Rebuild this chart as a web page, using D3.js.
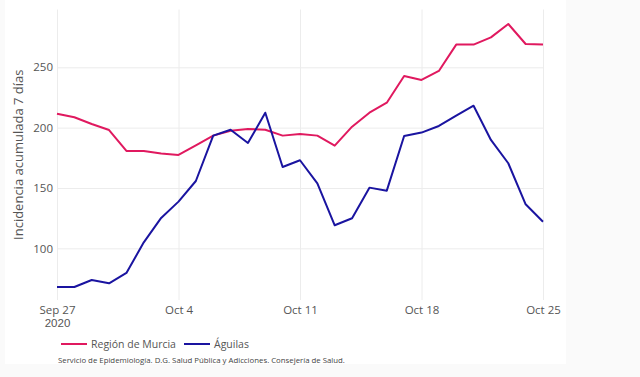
<!DOCTYPE html>
<html>
<head>
<meta charset="utf-8">
<script src="https://cdn.jsdelivr.net/npm/d3@7"></script>
<style>
    body { margin: 0; background: #fafafa; }
    #graphContainer { width: 640px; height: 377px; }
</style>
</head>
<body>
<div id="graphContainer"></div>
<script>
"use strict";

// Daily values, Sep 27 -> Oct 25 2020
const startDate = "2020-09-27";
const murciaValues = [211.6, 208.6, 203, 198, 180.7, 180.7, 178.5, 177.4, 185.4, 193.4,
    197.5, 198.9, 198.3, 193.4, 194.8, 193.4, 185.1, 200.8, 212.4, 220.7,
    242.8, 239.5, 247, 268.8, 268.8, 274.8, 285.9, 269.3, 268.8];
const aguilasValues = [68, 68, 73.8, 71, 79.6, 105, 125.2, 138.7, 155.8, 193.4,
    198.3, 187.3, 212.4, 167.4, 173, 153.9, 119.1, 124.9, 150.3, 147.8,
    193.1, 195.9, 201.4, 209.9, 218.2, 189.8, 170.5, 136.5, 122.1];
const seriesNames = ["Región de Murcia", "Águilas"];
const seriesColors = ["#e0195f", "#1a14a0"];
const yTicks = [100, 150, 200, 250];
const xTickDates = ["2020-09-27", "2020-10-04", "2020-10-11", "2020-10-18", "2020-10-25"];
const yAxisLabel = "Incidencia acumulada 7 días";
const sourceText = "Servicio de Epidemiología. D.G. Salud Pública y Adicciones. Consejería de Salud.";

const graphInfo = {
    width: 640,
    height: 377,
    panelRight: 566,
    panelBottom: 364,
    marginLeft: 57,
    marginRight: 97,
    marginTop: 9.5,
    plotBottom: 300
};

const parseDate = d3.timeParse("%Y-%m-%d");
const day0 = parseDate(startDate);
const dates = murciaValues.map((v, i) => d3.timeDay.offset(day0, i));

const svg = d3.select("#graphContainer").append("svg")
    .attr("width", graphInfo.width)
    .attr("height", graphInfo.height)
    .style("font-family", "'Open Sans', sans-serif");

// White paper area
svg.append("rect")
    .attr("x", 5)
    .attr("y", 0)
    .attr("width", graphInfo.panelRight - 5)
    .attr("height", graphInfo.panelBottom)
    .attr("fill", "white");

const xScale = d3.scaleTime()
    .domain([dates[0], dates[dates.length - 1]])
    .range([graphInfo.marginLeft, graphInfo.width - graphInfo.marginRight]);

const yScale = d3.scaleLinear()
    .domain([57.2, 297.9])
    .range([graphInfo.plotBottom, graphInfo.marginTop]);

// Horizontal grid + y labels
svg.append("g")
    .attr("transform", `translate(${graphInfo.marginLeft},0)`)
    .call(d3.axisLeft(yScale).tickValues(yTicks).tickSize(0).tickPadding(4))
    .call(g => g.select(".domain").remove())
    .call(g => g.selectAll(".tick text")
        .attr("font-family", "'Open Sans', sans-serif")
        .attr("font-size", 11.5)
        .attr("fill", "#555"))
    .call(g => g.selectAll(".tick line").clone()
        .attr("x2", xScale.range()[1] - xScale.range()[0])
        .attr("stroke", "#ececec"));

// Vertical grid + x labels
const xTicks = xTickDates.map(parseDate);
const fmt = d3.timeFormat("%b %-d");
svg.append("g")
    .attr("transform", `translate(0,${graphInfo.plotBottom})`)
    .call(d3.axisBottom(xScale).tickValues(xTicks).tickSize(0).tickFormat(fmt).tickPadding(6))
    .call(g => g.select(".domain").remove())
    .call(g => g.selectAll(".tick text")
        .attr("font-family", "'Open Sans', sans-serif")
        .attr("font-size", 11.5)
        .attr("fill", "#555"))
    .call(g => g.selectAll(".tick line").clone()
        .attr("y2", graphInfo.marginTop - graphInfo.plotBottom)
        .attr("stroke", "#ececec"))
    .call(g => g.select(".tick:first-of-type").append("text")
        .attr("y", 19)
        .attr("dy", "0.71em")
        .attr("text-anchor", "middle")
        .attr("font-size", 11.5)
        .attr("fill", "#555")
        .text("2020"));

// Y axis title
svg.append("text")
    .attr("transform", `translate(23,${(graphInfo.marginTop + graphInfo.plotBottom) / 2}) rotate(-90)`)
    .attr("text-anchor", "middle")
    .attr("font-size", 13)
    .attr("fill", "#555")
    .text(yAxisLabel);

// The two lines
const line = d3.line()
    .x((d, i) => xScale(dates[i]))
    .y(d => yScale(d));

[murciaValues, aguilasValues].forEach((values, k) => {
    svg.append("path")
        .datum(values)
        .attr("fill", "none")
        .attr("stroke", seriesColors[k])
        .attr("stroke-width", 2)
        .attr("stroke-linejoin", "round")
        .attr("d", line);
});

// Legend
const legendX = [61, 184];
const legend = svg.append("g")
    .selectAll("g")
    .data(seriesNames)
    .join("g")
    .attr("transform", (d, i) => `translate(${legendX[i]},344)`);

legend.append("line")
    .attr("x2", 26)
    .attr("stroke", (d, i) => seriesColors[i])
    .attr("stroke-width", 2);

legend.append("text")
    .attr("x", 30)
    .attr("dy", "0.35em")
    .attr("font-size", 10.5)
    .attr("fill", "#555")
    .text(d => d);

// Source line
svg.append("text")
    .attr("x", 58)
    .attr("y", 360)
    .attr("dy", "0.35em")
    .attr("font-size", 7.8)
    .attr("fill", "#444")
    .text(sourceText);
</script>
</body>
</html>
